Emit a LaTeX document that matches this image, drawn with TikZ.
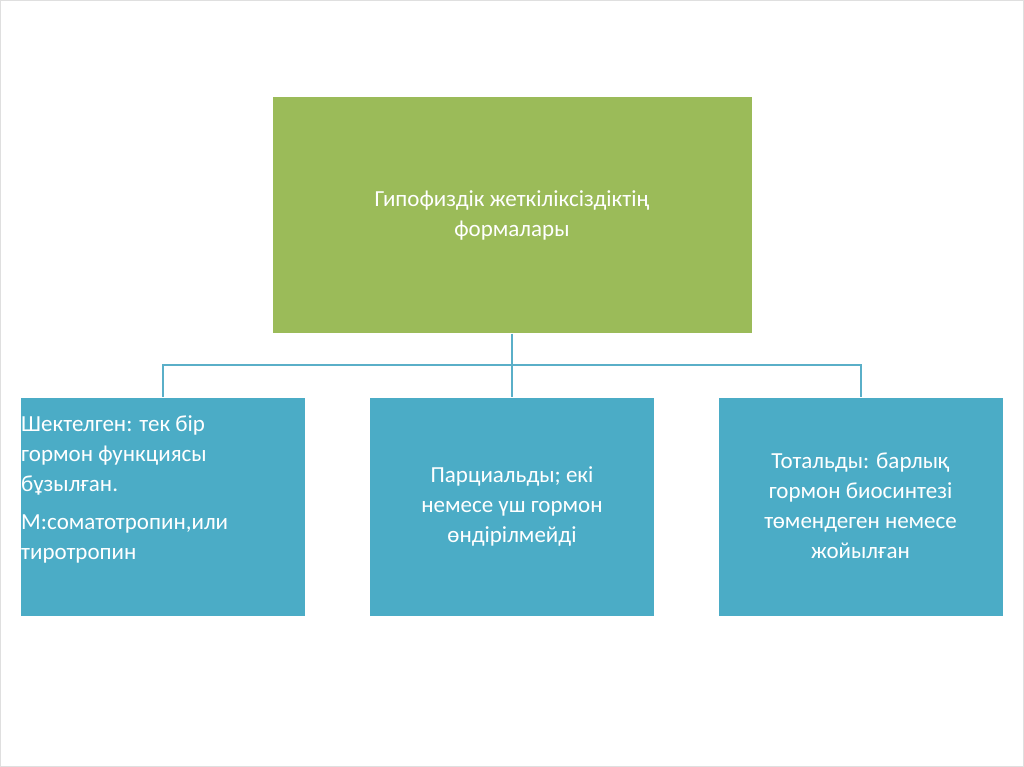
\documentclass[tikz,border=0pt]{standalone}
\usepackage{fontspec}
\setmainfont{Carlito}
\begin{document}
\begin{tikzpicture}[x=1pt,y=-1pt,
  top/.style={fill=topgreen,draw=white,line width=1pt,minimum width=480pt,minimum height=236pt,text=white,font=\fontsize{23}{30}\selectfont},
  low/.style={fill=lowblue,draw=white,line width=1pt,minimum width=285pt,minimum height=219pt,text=white,font=\fontsize{23}{30}\selectfont},
  conn/.style={draw=linecol,line width=2pt}]
\definecolor{topgreen}{HTML}{9BBB59}
\definecolor{lowblue}{HTML}{4BACC6}
\definecolor{linecol}{HTML}{5AAFC8}
\useasboundingbox (0,0) rectangle (1024,767);
\draw[gray!25] (0.5,0.5) rectangle (1023.5,766.5);
\node[top] (t) at (512,215) {\parbox{380pt}{\centering Гипофиздік жеткіліксіздіктің\\формалары}};
\node[low] (a) at (162.5,506.5) {};
\node[anchor=north west,text=white,font=\fontsize{23}{30}\selectfont,align=left,inner sep=0pt] (at) at (21,415) {Шектелген: тек бір\\гормон функциясы\\бұзылған.\\[8pt]М:соматотропин,или\\тиротропин};
\node[low] (b) at (512,506.5) {};
\node[text=white,font=\fontsize{23}{30}\selectfont,align=center] (bt) at (512,506) {Парциальды; екі\\немесе үш гормон\\өндірілмейді};
\node[low] (c) at (860.5,506.5) {};
\node[text=white,font=\fontsize{23}{30}\selectfont,align=center] (ct) at (860.5,506) {Тотальды: барлық\\гормон биосинтезі\\төмендеген немесе\\жойылған};
\coordinate (m) at (512,365);
\draw[conn] (t.south) -- (m);
\draw[conn] (a.north) |- (m) -| (c.north);
\draw[conn] (m) -- (b.north);
\end{tikzpicture}
\end{document}
